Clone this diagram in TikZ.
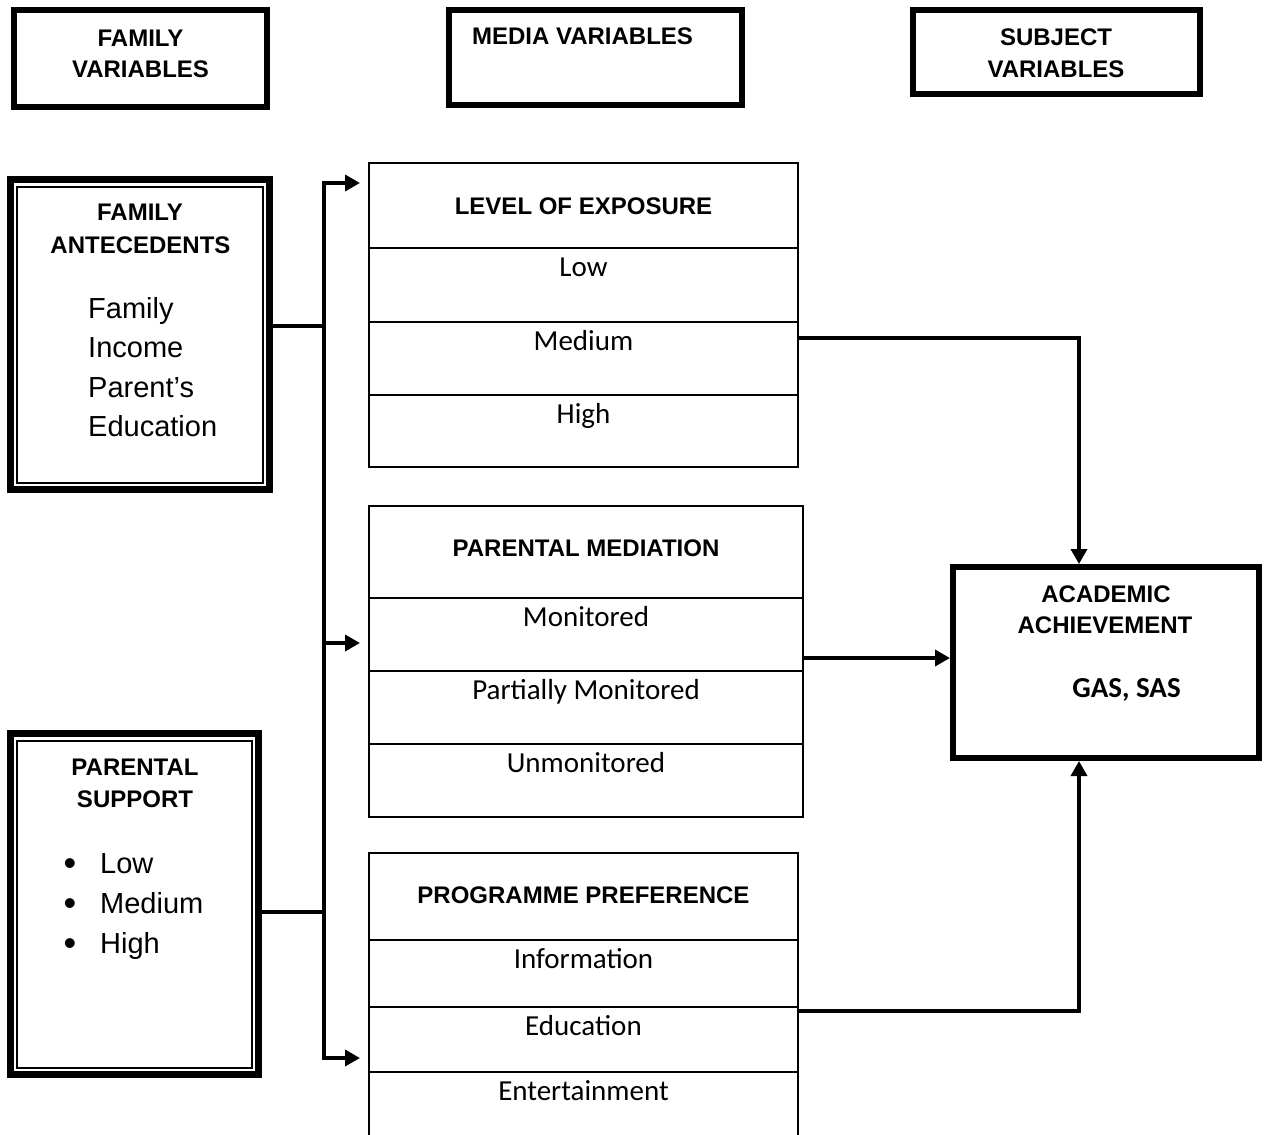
\documentclass[tikz,border=0pt]{standalone}
\usepackage{fontspec}
\setmainfont{Liberation Sans}
\newfontfamily\calfont{Carlito}
\usetikzlibrary{arrows.meta}
\begin{document}
\begin{tikzpicture}[x=1pt,y=-1pt,
  thickbox/.style={draw, line width=6pt, inner sep=0pt},
  heavybox/.style={draw, line width=7pt, inner sep=0pt},
  cell/.style={draw, line width=2pt, inner sep=0pt},
  hdr/.style={font=\fontsize{24}{28}\selectfont\bfseries, inner sep=0pt, anchor=base},
  bodytxt/.style={font=\fontsize{29}{34}\selectfont, inner sep=0pt, anchor=base west},
  bullettxt/.style={font=\fontsize{36}{40}\selectfont, inner sep=0pt, anchor=base},
  caltxt/.style={font=\calfont\fontsize{29}{34}\selectfont, inner sep=0pt, anchor=base},
  conn/.style={line width=3.5pt},
  arr/.style={conn, -{Triangle[length=15pt,width=16pt]}}]
\useasboundingbox (0,0) rectangle (1267,1135);
\clip (0,0) rectangle (1267,1135);

% ---- title boxes
\node[thickbox, minimum width=253pt, minimum height=97pt] (fv) at (140.5,58.5) {};
\node[hdr] (fvT1) at (140.5,46.5) {FAMILY};
\node[hdr] (fvT2) at (140.5,77) {VARIABLES};
\node[thickbox, minimum width=293pt, minimum height=95pt] (mv) at (595.5,57.5) {};
\node[hdr] (mvT) at (582.5,45) {MEDIA VARIABLES};
\node[thickbox, minimum width=287pt, minimum height=84pt] (sv) at (1056.5,52) {};
\node[hdr] (svT1) at (1056,45.5) {SUBJECT};
\node[hdr] (svT2) at (1056,77) {VARIABLES};

% ---- family antecedents
\node[heavybox, minimum width=259pt, minimum height=310pt] (famant) at (140,334.5) {};
\draw[line width=2pt] ([shift={(10,11)}]famant.north west) rectangle ([shift={(-10,-10)}]famant.south east);
\node[hdr] (faT1) at (140,220) {FAMILY};
\node[hdr] (faT2) at (140.5,253) {ANTECEDENTS};
\node[bodytxt] (faL1) at (88,318) {Family};
\node[bodytxt] (faL2) at (88,357.5) {Income};
\node[bodytxt] (faL3) at (88,397) {Parent’s};
\node[bodytxt] (faL4) at (88,436.5) {Education};

% ---- parental support
\node[heavybox, minimum width=248pt, minimum height=341pt] (parsup) at (134.5,904) {};
\draw[line width=2pt] ([shift={(10,11)}]parsup.north west) rectangle ([shift={(-10,-10)}]parsup.south east);
\node[hdr] (psT1) at (135,775) {PARENTAL};
\node[hdr] (psT2) at (135,807) {SUPPORT};
\node[bullettxt] (psB1) at (70,875) {•};
\node[bullettxt] (psB2) at (70,915) {•};
\node[bullettxt] (psB3) at (70,955) {•};
\node[bodytxt] (psL1) at (100,873) {Low};
\node[bodytxt] (psL2) at (100,913) {Medium};
\node[bodytxt] (psL3) at (100,953) {High};

% ---- level of exposure
\node[cell, minimum width=429pt, minimum height=85pt] (loeH) at (583.5,205.5) {};
\node[cell, minimum width=429pt, minimum height=74pt] (loe1) at (583.5,285) {};
\node[cell, minimum width=429pt, minimum height=73pt] (loe2) at (583.5,358.5) {};
\node[cell, minimum width=429pt, minimum height=72pt] (loe3) at (583.5,431) {};
\node[hdr] (loeT) at (583.5,214.5) {LEVEL OF EXPOSURE};
\node[caltxt] (loeT1) at (583.5,276) {Low};
\node[caltxt] (loeT2) at (583.5,350) {Medium};
\node[caltxt] (loeT3) at (583.5,423) {High};

% ---- parental mediation
\node[cell, minimum width=434pt, minimum height=92pt] (pmH) at (586,552) {};
\node[cell, minimum width=434pt, minimum height=73pt] (pm1) at (586,634.5) {};
\node[cell, minimum width=434pt, minimum height=73pt] (pm2) at (586,707.5) {};
\node[cell, minimum width=434pt, minimum height=73pt] (pm3) at (586,780.5) {};
\node[hdr] (pmT) at (586,556.5) {PARENTAL MEDIATION};
\node[caltxt] (pmT1) at (586,626) {Monitored};
\node[caltxt] (pmT2) at (586,699) {Partially Monitored};
\node[caltxt] (pmT3) at (586,772) {Unmonitored};

% ---- programme preference
\node[cell, minimum width=429pt, minimum height=87pt] (ppH) at (583.5,896.5) {};
\node[cell, minimum width=429pt, minimum height=67pt] (pp1) at (583.5,973.5) {};
\node[cell, minimum width=429pt, minimum height=65pt] (pp2) at (583.5,1039.5) {};
\node[cell, minimum width=429pt, minimum height=78pt] (pp3) at (583.5,1111) {};
\node[hdr] (ppT) at (583.5,903.5) {PROGRAMME PREFERENCE};
\node[caltxt] (ppT1) at (583.5,968) {Information};
\node[caltxt] (ppT2) at (583.5,1035) {Education};
\node[caltxt] (ppT3) at (583.5,1100) {Entertainment};

% ---- academic achievement
\node[thickbox, minimum width=306pt, minimum height=191pt] (aa) at (1106,662.5) {};
\node[hdr] (aaT1) at (1106,602) {ACADEMIC};
\node[hdr] (aaT2) at (1105,633) {ACHIEVEMENT};
\node[caltxt, font=\calfont\fontsize{29}{34}\selectfont\bfseries] (aaT3) at (1126.5,697) {GAS, SAS};

% ---- connectors
\coordinate (tT) at (324,183);
\coordinate (tM) at (324,643);
\coordinate (tB) at (324,1058);
\coordinate (jA) at (324,326);
\coordinate (jB) at (324,912);
\coordinate (cM) at (1079,338);
\coordinate (cP) at (1079,658);
\coordinate (cB) at (1079,1011);

\draw[conn] (famant.east |- jA) -- (jA);
\draw[conn] (parsup.east |- jB) -- (jB);
\draw[arr, shorten >=8pt] (tM) -- (tT) -- (loeH.west |- tT);
\draw[arr, shorten >=8pt] (tM) -- (tB) -- (pp2.west |- tB);
\draw[arr, shorten >=8pt] (tM) -- (pm1.west |- tM);

\draw[arr] (loe2.east |- cM) -| (cM |- aa.north);
\draw[arr] (pm1.east |- cP) -- (aa.west |- cP);
\draw[arr] (pp2.east |- cB) -| (cB |- aa.south);
\end{tikzpicture}
\end{document}
